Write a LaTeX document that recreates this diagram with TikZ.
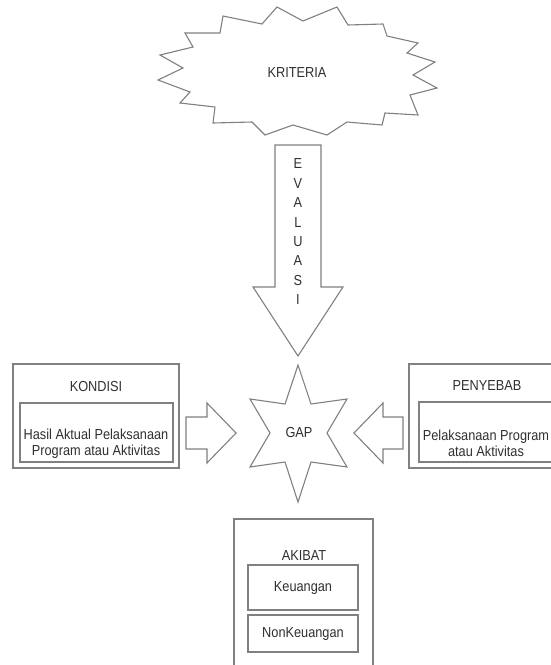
\documentclass[tikz,border=0pt]{standalone}
\usepackage{fontspec}
\setmainfont{Liberation Sans}[FakeStretch=0.88]
\definecolor{ln}{HTML}{808080}
\definecolor{tx}{HTML}{303030}
\tikzset{
  shp/.style={draw=ln, line width=1.1pt, fill=white, line join=miter},
  lbl/.style={text=tx, font=\fontsize{14.5}{16}\selectfont, inner sep=0pt, align=center},
}
\begin{document}
\begin{tikzpicture}[x=1pt,y=-1pt]
\useasboundingbox (0,0) rectangle (551,665);
\clip (0,0) rectangle (551,665);
% KRITERIA starburst
\draw[shp] (223,16) -- (262,24) -- (277,7) -- (303,21) -- (337,7) -- (348,25) -- (383,24) -- (387,36) -- (418,43) -- (407,53) -- (435,62) -- (413,75) -- (437,88) -- (410,95) -- (418,115) -- (385,113) -- (382,125) -- (347,122) -- (327,135) -- (293,125) -- (265,135) -- (252,122) -- (213,123) -- (215,107) -- (180,103) -- (190,92) -- (158,80) -- (183,68) -- (160,55) -- (193,47) -- (185,33) -- (220,33) -- cycle;
\node[lbl] (kriteria) at (297,73) {KRITERIA};
% EVALUASI arrow
\draw[shp] (275,145) -- (321,145) -- (321,287) -- (343,287) -- (298,356) -- (253,287) -- (275,287) -- cycle;
\foreach \l [count=\i from 0] in {E,V,A,L,U,A,S,I}
  \node[lbl] (ev\i) at (298,{164+19.4*\i}) {\l};
% KONDISI box
\draw[shp] (13,364) rectangle (179,468);
\draw[shp] (20,403) rectangle (173,462);
\node[lbl] (kondisi) at (96,387) {KONDISI};
\node[lbl] (hasil) at (96,444) {Hasil Aktual Pelaksanaan\\Program atau Aktivitas};
% PENYEBAB box
\draw[shp] (409,364) rectangle (575,468);
\draw[shp] (419,402) rectangle (569,462);
\node[lbl] (penyebab) at (487,386) {PENYEBAB};
\node[lbl] (pelaks) at (486,443) {Pelaksanaan Program\\atau Aktivitas};
% left arrow
\draw[shp] (186,417) -- (207,417) -- (207,403) -- (236,433) -- (207,463) -- (207,449) -- (186,449) -- cycle;
% right arrow
\draw[shp] (403,417) -- (383,417) -- (383,403) -- (354,433) -- (383,463) -- (383,449) -- (403,449) -- cycle;
% GAP star
\draw[shp] (298,365) -- (311,404) -- (347,399) -- (327,433) -- (347,467) -- (311,462) -- (298,502) -- (285,462) -- (250,467) -- (270,433) -- (250,399) -- (285,404) -- cycle;
\node[lbl] (gap) at (299,433) {GAP};
% AKIBAT box
\draw[shp] (234,519) rectangle (373,680);
\draw[shp] (248,565) rectangle (358,610);
\draw[shp] (248,615) rectangle (358,652);
\node[lbl] (akibat) at (304,556) {AKIBAT};
\node[lbl] (keu) at (303,588) {Keuangan};
\node[lbl] (nonkeu) at (303,634) {NonKeuangan};
\end{tikzpicture}
\end{document}
